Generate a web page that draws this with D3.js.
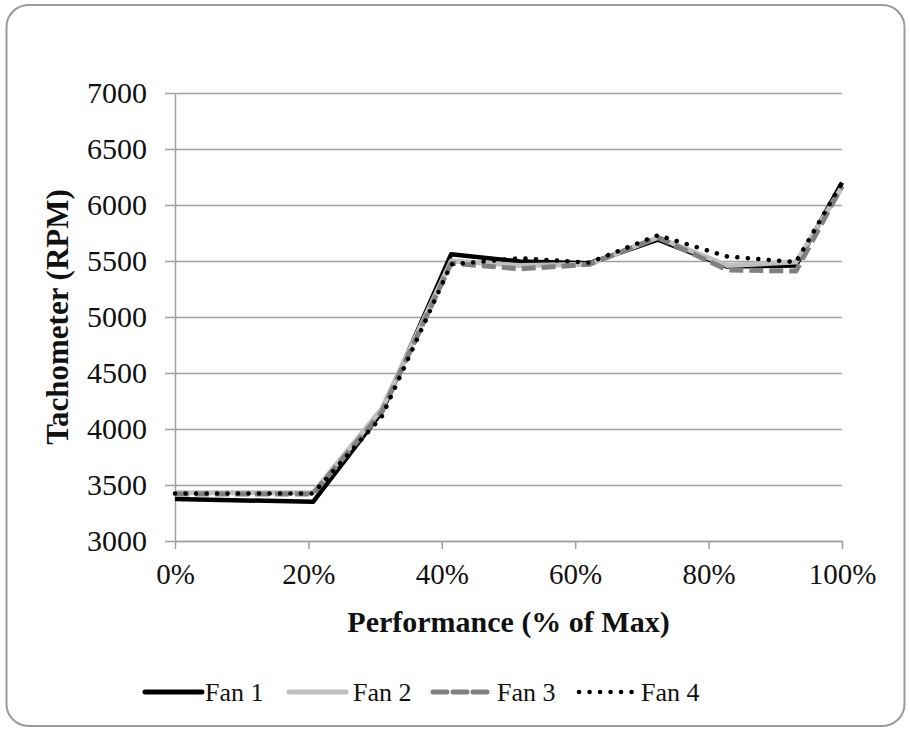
<!DOCTYPE html>
<html>
<head>
<meta charset="utf-8">
<script src="https://cdn.jsdelivr.net/npm/d3@7"></script>
<style>
  body { margin: 0; background: #fff; }
  svg text { font-family: "Liberation Serif", serif; fill: #111; }
</style>
</head>
<body>
<div id="chart-area"></div>
<script>
// performance (% of max) where each fan was sampled
const perf = [0, 20.7, 31.0, 41.4, 51.7, 62.1, 72.4, 82.8, 93.1, 100];
const fan1 = [3375, 3350, 4150, 5560, 5495, 5480, 5690, 5450, 5460, 6200];
const fan2 = [3430, 3430, 4180, 5500, 5460, 5470, 5710, 5460, 5490, 6160];
const fan3 = [3420, 3420, 4150, 5480, 5430, 5470, 5710, 5420, 5410, 6170];
const fan4 = [3425, 3425, 4110, 5470, 5525, 5485, 5730, 5540, 5490, 6200];
const seriesNames = ["Fan 1", "Fan 2", "Fan 3", "Fan 4"];
const xTicks = [0, 20, 40, 60, 80, 100];
const yTicks = [3000, 3500, 4000, 4500, 5000, 5500, 6000, 6500, 7000];

const svgWidth = 910;
const svgHeight = 731;
const margin = { mTop: 93, mRight: 68, mBottom: 190, mLeft: 175 };
const { mTop, mRight, mBottom, mLeft } = margin;
const width = svgWidth - mLeft - mRight;
const height = svgHeight - mTop - mBottom;

const styles = [
    { color: "#000000", w: 4.5, dash: null, cap: "butt" },
    { color: "#bfbfbf", w: 5, dash: null, cap: "butt" },
    { color: "#808080", w: 5, dash: "14,6", cap: "butt" },
    { color: "#000000", w: 4.5, dash: "0.1,10.4", cap: "round" }
];

const root = d3.select("#chart-area")
    .append("svg")
    .attr("width", svgWidth)
    .attr("height", svgHeight);

// outer rounded frame
root.append("rect")
    .attr("x", 6.5)
    .attr("y", 5)
    .attr("width", 898)
    .attr("height", 721)
    .attr("rx", 22)
    .attr("fill", "#fff")
    .attr("stroke", "#9a9a9a")
    .attr("stroke-width", 2);

const svg = root.append("g")
    .attr("transform", `translate(${mLeft},${mTop})`);

const xScale = d3.scaleLinear().domain([0, 100]).range([0, width]);
const yScale = d3.scaleLinear().domain([3000, 7000]).range([height, 0]);

// grid
svg.append("g")
    .attr("class", "y-grid")
    .call(d3.axisLeft(yScale).tickValues(yTicks).tickSize(-width).tickFormat(""))
    .call(g => g.select(".domain").remove())
    .selectAll("line")
    .attr("stroke", "#a0a0a0")
    .attr("stroke-width", 1.5);

// y axis
const yAxisGroup = svg.append("g")
    .attr("class", "y-axis")
    .call(d3.axisLeft(yScale).tickValues(yTicks).tickSize(10).tickSizeOuter(0).tickPadding(18)
        .tickFormat(d3.format("d")));
yAxisGroup.select(".domain").attr("stroke", "#a0a0a0").attr("stroke-width", 1.5);
yAxisGroup.selectAll("line").attr("stroke", "#a0a0a0").attr("stroke-width", 1.5);
yAxisGroup.selectAll("text")
    .style("font-size", "30px")
    .style("font-family", "Liberation Serif")
    .attr("fill", "#111");

// x axis
const xAxisGroup = svg.append("g")
    .attr("class", "x-axis")
    .attr("transform", `translate(0, ${height})`)
    .call(d3.axisBottom(xScale).tickValues(xTicks).tickSize(8).tickSizeOuter(0).tickPadding(14)
        .tickFormat(d => `${d}%`));
xAxisGroup.select(".domain").attr("stroke", "#a0a0a0").attr("stroke-width", 1.5);
xAxisGroup.selectAll("line").attr("stroke", "#a0a0a0").attr("stroke-width", 1.5);
xAxisGroup.selectAll("text")
    .style("font-size", "29px")
    .style("font-family", "Liberation Serif")
    .attr("fill", "#111");

// titles
svg.append("text")
    .attr("x", width / 2)
    .attr("y", height + 91)
    .attr("text-anchor", "middle")
    .style("font-size", "30px")
    .style("font-weight", "bold")
    .text("Performance (% of Max)");

svg.append("text")
    .attr("transform", "rotate(-90)")
    .attr("x", -height / 2)
    .attr("y", -mLeft + 68)
    .attr("text-anchor", "middle")
    .style("font-size", "31px")
    .style("font-weight", "bold")
    .text("Tachometer (RPM)");

// lines
const allFans = [fan1, fan2, fan3, fan4];
const line = d3.line()
    .x(d => xScale(d.x))
    .y(d => yScale(d.y));

allFans.forEach((vals, i) => {
    const s = styles[i];
    svg.append("path")
        .datum(vals.map((v, j) => ({ x: perf[j], y: v })))
        .attr("fill", "none")
        .attr("stroke", s.color)
        .attr("stroke-width", s.w)
        .attr("stroke-linejoin", "round")
        .attr("stroke-linecap", s.cap)
        .attr("stroke-dasharray", s.dash)
        .attr("d", line);
});

// legend
const legendY = 692;
const legend = root.append("g").attr("class", "legend");
seriesNames.forEach((name, i) => {
    const s = styles[i];
    const x0 = 145 + i * 144;
    legend.append("line")
        .attr("x1", x0 + (i === 3 ? 2 : 0))
        .attr("x2", x0 + 57)
        .attr("y1", legendY)
        .attr("y2", legendY)
        .attr("stroke", s.color)
        .attr("stroke-width", i === 0 ? 5 : s.w)
        .attr("stroke-linecap", "round")
        .attr("stroke-dasharray", s.dash);
    legend.append("text")
        .attr("x", x0 + 60 + (i > 0 ? 4 : 0))
        .attr("y", legendY + 9)
        .style("font-size", "26px")
        .text(name);
});
</script>
</body>
</html>
